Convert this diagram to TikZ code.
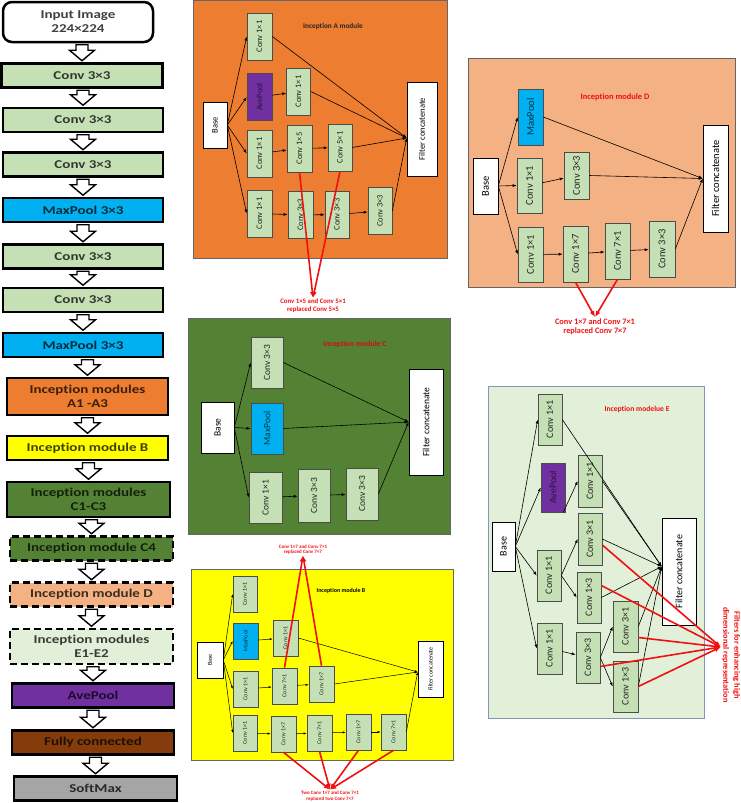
\documentclass[tikz,border=0pt]{standalone}
\usepackage{fontspec}
\setmainfont{Carlito}[Ligatures=NoCommon]
\newfontfamily\flowfont{Carlito}[FakeStretch=1.25, Ligatures=NoCommon]
\usetikzlibrary{calc,arrows.meta}

\definecolor{convgreen}{HTML}{C5E0B4}
\definecolor{poolblue}{HTML}{00B0F0}
\definecolor{avepurple}{HTML}{7030A0}
\definecolor{aorange}{HTML}{ED7D31}
\definecolor{byellow}{HTML}{FFFF00}
\definecolor{cgreen}{HTML}{548235}
\definecolor{dpeach}{HTML}{F4B183}
\definecolor{elight}{HTML}{E2F0D9}
\definecolor{fcbrown}{HTML}{843C0C}
\definecolor{smgrey}{HTML}{A5A5A5}
\definecolor{eframe}{HTML}{8497B0}
\definecolor{notered}{HTML}{F01010}

\newcommand\vlabel[1]{\rotatebox{90}{#1}}
% hollow block arrow between two boxes of the main column
\newcommand\hollowarrow[2]{%
  \draw[hollow] ($(#1.south -| #2.north)+(-6,1.5)$) -- ($(#2.north)+(-6,-12)$)
    -- ($(#2.north)+(-12.5,-12)$) -- ($(#2.north)+(0,-1.5)$)
    -- ($(#2.north)+(12.5,-12)$) -- ($(#2.north)+(6,-12)$)
    -- ($(#1.south -| #2.north)+(6,1.5)$) -- cycle;}

\tikzset{
  flow/.style={draw, line width=2.5pt, fill=#1, text=#1!25!black, minimum height=24,
    inner sep=0pt, align=center, font=\flowfont\bfseries\fontsize{12}{14}\selectfont},
  dashbox/.style={dash pattern=on 7pt off 4pt},
  hollow/.style={draw, fill=white, line width=1.4pt, line join=miter},
  modframe/.style={draw=black!60, line width=0.8pt},
  conv/.style={draw=black!70, fill=convgreen, text=black!85, inner sep=0pt, line width=0.6pt},
  mpool/.style={conv, fill=poolblue, text=poolblue!30!black},
  apool/.style={conv, fill=avepurple, text=avepurple!40!black},
  wbox/.style={conv, draw=black, fill=white, text=black},
  asize/.style={minimum width=25, minimum height=47, font=\fontsize{8.5}{9}\selectfont},
  dsize/.style={minimum width=25, minimum height=55, font=\fontsize{10.5}{11}\selectfont},
  csize/.style={minimum width=32, minimum height=51, font=\fontsize{9.5}{10}\selectfont},
  bsize/.style={minimum width=25, minimum height=36, font=\fontsize{6}{6}\selectfont},
  esize/.style={minimum width=24, minimum height=51, font=\fontsize{10}{10}\selectfont},
  arr/.style={-{Latex[length=4pt,width=3pt]}, line width=0.6pt},
  barr/.style={-{Latex[length=3pt,width=2.2pt]}, line width=0.5pt},
  redline/.style={notered, line width=1.6pt, -{Latex[length=6pt,width=5pt]}},
  title/.style={inner sep=0pt, font=\bfseries\fontsize{#1}{#1}\selectfont},
  note/.style={text=notered, align=center, inner sep=1pt}
}

\begin{document}
\begin{tikzpicture}[x=1pt, y=-1pt]
  \useasboundingbox (0,0) rectangle (740,803);

  % main column
  \node[flow=white, rounded corners=9pt, minimum width=150, minimum height=40] (input) at (78,22) {Input Image\\224×224};
  \node[flow=convgreen, minimum width=161] (conv1) at (82,75.5) {Conv 3×3};
  \node[flow=convgreen, minimum width=160] (conv2) at (83,120) {Conv 3×3};
  \node[flow=convgreen, minimum width=160] (conv3) at (83,164.5) {Conv 3×3};
  \node[flow=poolblue, minimum width=160] (pool1) at (83,210) {MaxPool 3×3};
  \node[flow=convgreen, minimum width=160] (conv4) at (83,256.5) {Conv 3×3};
  \node[flow=convgreen, minimum width=160] (conv5) at (83,300) {Conv 3×3};
  \node[flow=poolblue, minimum width=160] (pool2) at (83,345) {MaxPool 3×3};
  \node[flow=aorange, minimum width=161, minimum height=37] (incA) at (87.5,396.5) {Inception modules\\A1 -A3};
  \node[flow=byellow, minimum width=161] (incB) at (87.5,448) {Inception module B};
  \node[flow=cgreen, minimum width=163, minimum height=35] (incC) at (88.5,499.5) {Inception modules\\C1-C3};
  \node[flow=cgreen, dashbox, minimum width=163] (incC4) at (91.5,548.5) {Inception module C4};
  \node[flow=dpeach, dashbox, minimum width=163] (incD) at (91.5,594.5) {Inception module D};
  \node[flow=elight, dashbox, minimum width=163, minimum height=35] (incE) at (91.5,646.5) {Inception modules\\E1-E2};
  \node[flow=avepurple, minimum width=162] (ave) at (93,695.5) {AvePool};
  \node[flow=fcbrown, minimum width=162] (fc) at (93,742.5) {Fully connected};
  \node[flow=smgrey, minimum width=163] (soft) at (95.5,788.5) {SoftMax};

  \hollowarrow{input}{conv1}
  \hollowarrow{conv1}{conv2}
  \hollowarrow{conv2}{conv3}
  \hollowarrow{conv3}{pool1}
  \hollowarrow{pool1}{conv4}
  \hollowarrow{conv4}{conv5}
  \hollowarrow{conv5}{pool2}
  \hollowarrow{pool2}{incA}
  \hollowarrow{incA}{incB}
  \hollowarrow{incB}{incC}
  \hollowarrow{incC}{incC4}
  \hollowarrow{incC4}{incD}
  \hollowarrow{incD}{incE}
  \hollowarrow{incE}{ave}
  \hollowarrow{ave}{fc}
  \hollowarrow{fc}{soft}

  % Inception A module
  \draw[modframe, fill=aorange] (193,0.5) rectangle (447,258);
  \node[title=7.3, text=black!85] (titleA) at (333,27) {Inception A module};
  \node[wbox, asize, minimum width=24, minimum height=46] (baseA) at (215,125) {\vlabel{Base}};
  \node[conv, asize] (a11) at (259.5,36.5) {\vlabel{Conv 1×1}};
  \node[apool, asize] (aave) at (259.5,97) {\vlabel{AvePool}};
  \node[conv, asize, minimum width=24] (a21) at (298.5,91.5) {\vlabel{Conv 1×1}};
  \node[conv, asize] (a31) at (259.5,153.5) {\vlabel{Conv 1×1}};
  \node[conv, asize] (a15) at (299.5,148.5) {\vlabel{Conv 1×5}};
  \node[conv, asize, minimum width=24] (a51) at (340,147.5) {\vlabel{Conv 5×1}};
  \node[conv, asize] (a41) at (259.5,213.5) {\vlabel{Conv 1×1}};
  \node[conv, asize] (a33a) at (300.5,215) {\vlabel{Conv 3×3}};
  \node[conv, asize, minimum width=24] (a33b) at (337,214.5) {\vlabel{Conv 3×3}};
  \node[conv, asize, minimum width=24] (a33c) at (380,211) {\vlabel{Conv 3×3}};
  \node[wbox, asize, minimum width=30, minimum height=94] (catA) at (422,129) {\vlabel{Filter concatenate}};
  \draw[arr] (baseA.east) -- (a11.west);
  \draw[arr] (baseA.east) -- (aave.west);
  \draw[arr] (baseA.east) -- (a31.west);
  \draw[arr] (baseA.east) -- (a41.west);
  \draw[arr] (aave) -- (a21);
  \draw[arr] (a31) -- (a15);
  \draw[arr] (a15) -- (a51);
  \draw[arr] (a41) -- (a33a);
  \draw[arr] (a33a) -- (a33b);
  \draw[arr] (a33b) -- (a33c);
  \draw[arr] (a11.east) -- ([yshift=-9pt]catA.west);
  \draw[arr] (a21.east) -- ([yshift=-9pt]catA.west);
  \draw[arr] (a51.east) -- ([yshift=-9pt]catA.west);
  \draw[arr] (a33c.east) -- ([yshift=-9pt]catA.west);
  \node[note, font=\bfseries\fontsize{6.8}{8}\selectfont] (noteA) at (313,306) {Conv 1×5 and Conv 5×1\\replaced Conv 5×5};
  \draw[redline] (a15.south) -- (noteA.north);
  \draw[redline] (a51.south) -- (noteA.north);

  % Inception module D
  \draw[modframe, fill=dpeach] (468,58) rectangle (735,287);
  \node[title=8.4, text=notered] (titleD) at (615,97) {Inception module D};
  \node[wbox, dsize, minimum height=56] (baseD) at (485.5,186) {\vlabel{Base}};
  \node[mpool, dsize, minimum height=56] (dpool) at (530.5,117) {\vlabel{MaxPool}};
  \node[conv, dsize] (d11) at (529.5,185.5) {\vlabel{Conv 1×1}};
  \node[conv, dsize, minimum height=47] (d33) at (576.5,175.5) {\vlabel{Conv 3×3}};
  \node[conv, dsize] (d11b) at (530.5,254.5) {\vlabel{Conv 1×1}};
  \node[conv, dsize, minimum height=56] (d17) at (575.5,254) {\vlabel{Conv 1×7}};
  \node[conv, dsize, minimum height=56] (d71) at (617.5,251) {\vlabel{Conv 7×1}};
  \node[conv, dsize, minimum width=26, minimum height=56] (d33b) at (662,249) {\vlabel{Conv 3×3}};
  \node[wbox, dsize, minimum height=107] (catD) at (715.5,178.5) {\vlabel{Filter concatenate}};
  \draw[arr] (baseD.east) -- (dpool.west);
  \draw[arr] (baseD.east) -- (d11.west);
  \draw[arr] (baseD.east) -- (d11b.west);
  \draw[arr] (d11) -- (d33);
  \draw[arr] (d11b) -- (d17);
  \draw[arr] (d17) -- (d71);
  \draw[arr] (d71) -- (d33b);
  \draw[arr] (dpool.east) -- (catD.west);
  \draw[arr] (d33.east) -- (catD.west);
  \draw[arr] (d33b.east) -- (catD.west);
  \node[note, font=\bfseries\fontsize{8.3}{9.5}\selectfont] (noteD) at (595,326.5) {Conv 1×7 and Conv 7×1\\replaced Conv 7×7};
  \draw[redline] (d17.south) -- (noteD.north);
  \draw[redline] (d71.south) -- (noteD.north);

  % Inception module C
  \draw[modframe, fill=cgreen] (188,318) rectangle (450,534);
  \node[title=7.8, text=notered!85!black] (titleC) at (355,344) {Inception module C};
  \node[wbox, csize, minimum width=33] (baseC) at (217.5,427.5) {\vlabel{Base}};
  \node[conv, csize] (c33) at (267,362.5) {\vlabel{Conv 3×3}};
  \node[mpool, csize] (cpool) at (267,428.5) {\vlabel{MaxPool}};
  \node[conv, csize, minimum width=33] (c11) at (265.5,497.5) {\vlabel{Conv 1×1}};
  \node[conv, csize, minimum height=53] (c33b) at (314,495.5) {\vlabel{Conv 3×3}};
  \node[conv, csize, minimum height=52] (c33c) at (362,494) {\vlabel{Conv 3×3}};
  \node[wbox, csize, minimum width=34, minimum height=106] (catC) at (426,422) {\vlabel{Filter concatenate}};
  \draw[arr] (baseC.east) -- (c33.west);
  \draw[arr] (baseC.east) -- (cpool.west);
  \draw[arr] (baseC.east) -- (c11.west);
  \draw[arr] (c11) -- (c33b);
  \draw[arr] (c33b) -- (c33c);
  \draw[arr] (c33.east) -- (catC.west);
  \draw[arr] (cpool.east) -- (catC.west);
  \draw[arr] (c33c.east) -- (catC.west);

  % Inception module B
  \draw[modframe, fill=byellow] (191,569) rectangle (453,760);
  \node[title=6, text=black] (titleB) at (341,591) {Inception module B};
  \node[wbox, bsize, minimum width=26] (baseB) at (210,660) {\vlabel{Base}};
  \node[conv, bsize, minimum width=24] (b11) at (245,594) {\vlabel{Conv 1×1}};
  \node[mpool, bsize] (bpool) at (245.5,641) {\vlabel{MaxPool}};
  \node[conv, bsize] (b11r) at (285.5,638) {\vlabel{Conv 1×1}};
  \node[conv, bsize] (b11c) at (245.5,689) {\vlabel{Conv 1×1}};
  \node[conv, bsize] (b71) at (284.5,686) {\vlabel{Conv 7×1}};
  \node[conv, bsize] (b17) at (321.5,684) {\vlabel{Conv 1×7}};
  \node[conv, bsize, minimum width=24] (b11d) at (245,733) {\vlabel{Conv 1×1}};
  \node[conv, bsize] (b17b) at (283.5,734) {\vlabel{Conv 1×7}};
  \node[conv, bsize] (b71b) at (319.5,733) {\vlabel{Conv 7×1}};
  \node[conv, bsize] (b17c) at (358.5,732) {\vlabel{Conv 1×7}};
  \node[conv, bsize] (b71c) at (393.5,732) {\vlabel{Conv 7×1}};
  \node[wbox, bsize, minimum height=56] (catB) at (430.5,669) {\vlabel{Filter concatenate}};
  \draw[barr] (baseB.east) -- (b11.west);
  \draw[barr] (baseB.east) -- (bpool.west);
  \draw[barr] (baseB.east) -- (b11c.west);
  \draw[barr] (baseB.east) -- (b11d.west);
  \draw[barr] (bpool) -- (b11r);
  \draw[barr] (b11c) -- (b71);
  \draw[barr] (b71) -- (b17);
  \draw[barr] (b11d) -- (b17b);
  \draw[barr] (b17b) -- (b71b);
  \draw[barr] (b71b) -- (b17c);
  \draw[barr] (b17c) -- (b71c);
  \draw[barr] (b11r.east) -- ([yshift=-3pt]catB.west);
  \draw[barr] (b17.east) -- ([yshift=-3pt]catB.west);
  \draw[barr] (b71c.east) -- ([yshift=-3pt]catB.west);
  \node[note, font=\bfseries\fontsize{5}{5.5}\selectfont] (noteB) at (303,549.5) {Conv 1×7 and Conv 7×1\\replaced Conv 7×7};
  \draw[redline] (b71.north) -- (noteB.south);
  \draw[redline] (b17.north) -- (noteB.south);
  \node[note, font=\bfseries\fontsize{5}{6}\selectfont] (noteBB) at (330,796) {Two Conv 1×7 and Conv 7×1\\replaced two Conv 7×7};
  \draw[redline] (b17b.south) -- (noteBB.north);
  \draw[redline] (b71b.south) -- (noteBB.north);
  \draw[redline] (b17c.south) -- (noteBB.north);
  \draw[redline] (b71c.south) -- (noteBB.north);

  % Inception module E
  \draw[modframe, draw=eframe, fill=elight] (488,386) rectangle (704,718);
  \node[title=7.6, text=notered] (titleE) at (637,409) {Inception modelue E};
  \node[wbox, esize, minimum width=23, minimum height=49] (baseE) at (503.5,546.5) {\vlabel{Base}};
  \node[conv, esize] (e11) at (550,419.5) {\vlabel{Conv 1×1}};
  \node[apool, esize, minimum height=49] (eave) at (553,487.5) {\vlabel{AvePool}};
  \node[conv, esize, minimum height=52] (e11r) at (590,481) {\vlabel{Conv 1×1}};
  \node[conv, esize] (e11m) at (549,575.5) {\vlabel{Conv 1×1}};
  \node[conv, esize, minimum height=52] (e31) at (590,539) {\vlabel{Conv 3×1}};
  \node[conv, esize] (e13) at (589,597.5) {\vlabel{Conv 1×3}};
  \node[conv, esize, minimum width=25] (e11b) at (549.5,648.5) {\vlabel{Conv 1×1}};
  \node[conv, esize] (e33) at (588,657.5) {\vlabel{Conv 3×3}};
  \node[conv, esize, minimum width=25] (e31b) at (625.5,626.5) {\vlabel{Conv 3×1}};
  \node[conv, esize, minimum width=25] (e13b) at (625.5,686.5) {\vlabel{Conv 1×3}};
  \node[wbox, esize, minimum width=34, minimum height=107] (catE) at (679,571.5) {\vlabel{Filter concatenate}};
  \draw[arr] (baseE.east) -- (e11.west);
  \draw[arr] (baseE.east) -- (eave.west);
  \draw[arr] (baseE.east) -- (e11m.west);
  \draw[arr] (baseE.east) -- (e11b.west);
  \draw[arr] ([xshift=-2pt]eave.south east) -- (e11r.west);
  \draw[arr] (e11m.east) -- (e31.west);
  \draw[arr] (e11m.east) -- (e13.west);
  \draw[arr] (e11b) -- (e33);
  \draw[arr] (e33.east) -- (e31b.west);
  \draw[arr] (e33.east) -- (e13b.west);
  \draw[arr] (e11.east) -- ([yshift=5pt]catE.west);
  \draw[arr] (e11r.east) -- ([yshift=5pt]catE.west);
  \draw[arr] (e31.east) -- ([yshift=5pt]catE.west);
  \draw[arr] (e13.east) -- ([yshift=5pt]catE.west);
  \draw[arr] (e31b.east) -- ([yshift=5pt]catE.west);
  \draw[arr] (e13b.east) -- ([yshift=5pt]catE.west);
  \node[note, rotate=-90, font=\bfseries\fontsize{8.3}{11}\selectfont] (noteE) at (731,655) {Filters for enhancing high\\dimensional representation};
  \draw[redline] ([yshift=-6pt]e31.east) -- ([yshift=8pt]noteE.south);
  \draw[redline] ([yshift=12pt]e13.east) -- ([yshift=8pt]noteE.south);
  \draw[redline] ([yshift=-11pt]e31b.east) -- ([yshift=8pt]noteE.south);
  \draw[redline] ([yshift=-9pt]e33.east) -- ([yshift=8pt]noteE.south);
  \draw[redline] (e13b.east) -- ([yshift=8pt]noteE.south);

\end{tikzpicture}
\end{document}
